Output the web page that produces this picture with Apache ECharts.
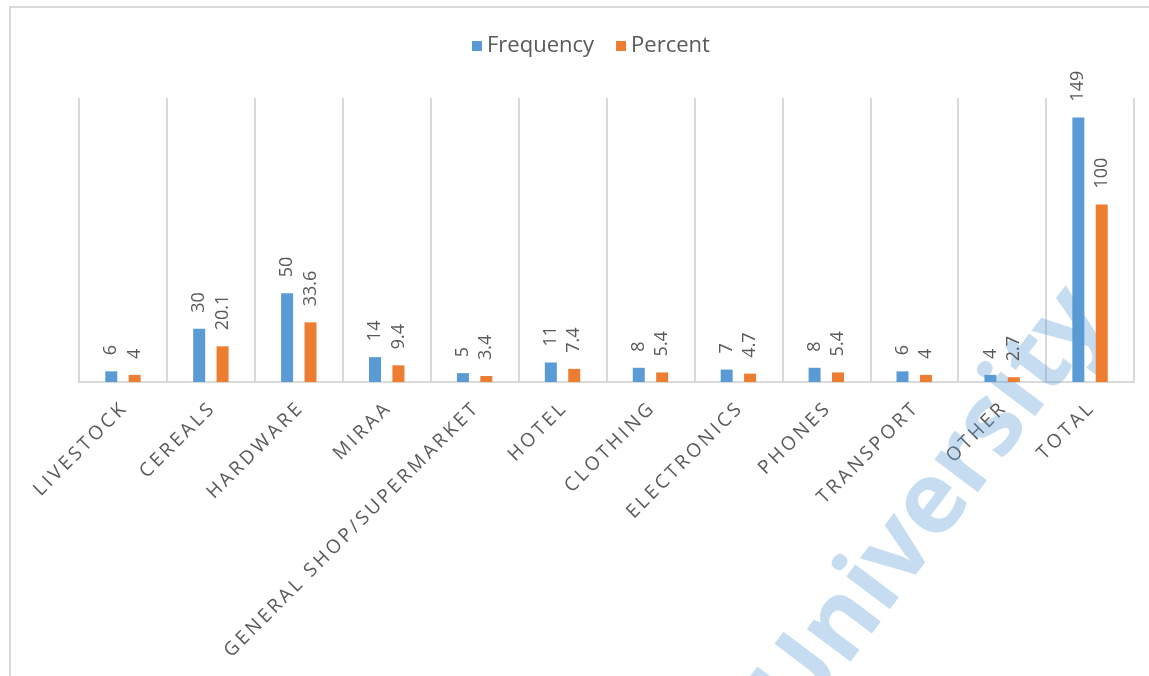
<!DOCTYPE html>
<html lang="en">
<head>
    <meta charset="utf-8">
    <title>Business type</title>
    <script src="https://cdn.jsdelivr.net/npm/echarts@6/dist/echarts.min.js"></script>
    <style type="text/css">
        html, body {
            margin: 0;
            padding: 0;
            background: #ffffff;
        }

        #main {
            width: 1149px;
            height: 676px;
        }
    </style>
</head>
<body>
<div id="main"></div>
<script type="text/javascript">
    // categories and values
    const categories = ['LIVESTOCK', 'CEREALS', 'HARDWARE', 'MIRAA', 'GENERAL SHOP/SUPERMARKET', 'HOTEL',
        'CLOTHING', 'ELECTRONICS', 'PHONES', 'TRANSPORT', 'OTHER', 'TOTAL'];
    const frequency = [6, 30, 50, 14, 5, 11, 8, 7, 8, 6, 4, 149];
    const percent = [4, 20.1, 33.6, 9.4, 3.4, 7.4, 5.4, 4.7, 5.4, 4, 2.7, 100];

    const TEXT_COLOR = '#595959';
    const GRID_COLOR = '#d9d9d9';

    // excel spreads the axis letters out, a thin space between letters does the same
    function spread(s) {
        return s.split('').join('\u2009');
    }

    let myChart = echarts.init(document.getElementById('main'));

    function valueLabel() {
        return {
            show: true,
            position: 'top',
            rotate: 90,
            align: 'left',
            verticalAlign: 'middle',
            distance: 16,
            color: TEXT_COLOR,
            fontFamily: 'Open Sans',
            fontSize: 18
        };
    }

    let option = {
        animation: false,
        backgroundColor: '#ffffff',
        graphic: [
            {
                type: 'rect',
                z: 0,
                shape: {x: 10, y: 7, width: 1160, height: 720},
                style: {fill: null, stroke: '#d9d9d9', lineWidth: 2}
            },
            {
                type: 'text',
                z: 1,
                x: 932,
                y: 506,
                rotation: 53 * Math.PI / 180,
                style: {
                    text: 'University',
                    fill: 'rgba(91,155,213,0.35)',
                    font: 'bold 100px "Open Sans"',
                    align: 'center',
                    verticalAlign: 'middle'
                }
            }
        ],
        legend: {
            top: 30,
            left: 467,
            itemWidth: 10,
            itemHeight: 10,
            itemGap: 22,
            icon: 'rect',
            textStyle: {color: TEXT_COLOR, fontFamily: 'Open Sans', fontSize: 22},
            data: ['Frequency', 'Percent']
        },
        grid: {
            left: 79,
            right: 15,
            top: 98,
            bottom: 294,
            containLabel: false
        },
        xAxis: {
            type: 'category',
            data: categories,
            axisLine: {show: true, lineStyle: {color: GRID_COLOR, width: 2}},
            axisTick: {show: false},
            splitLine: {show: true, lineStyle: {color: GRID_COLOR, width: 2}},
            axisLabel: {
                interval: 0,
                rotate: 45,
                margin: 25,
                color: TEXT_COLOR,
                fontFamily: 'Open Sans',
                fontSize: 19,
                formatter: spread
            }
        },
        yAxis: {
            type: 'value',
            min: 0,
            max: 160,
            show: false,
            splitLine: {show: false}
        },
        series: [
            {
                name: 'Frequency',
                type: 'bar',
                z: 3,
                data: frequency,
                barWidth: 12,
                barGap: '95%',
                itemStyle: {color: '#5b9bd5'},
                label: valueLabel()
            },
            {
                name: 'Percent',
                type: 'bar',
                z: 3,
                data: percent,
                barWidth: 12,
                barGap: '95%',
                itemStyle: {color: '#ed7d31'},
                label: valueLabel()
            }
        ]
    };

    myChart.setOption(option);
</script>
</body>
</html>
